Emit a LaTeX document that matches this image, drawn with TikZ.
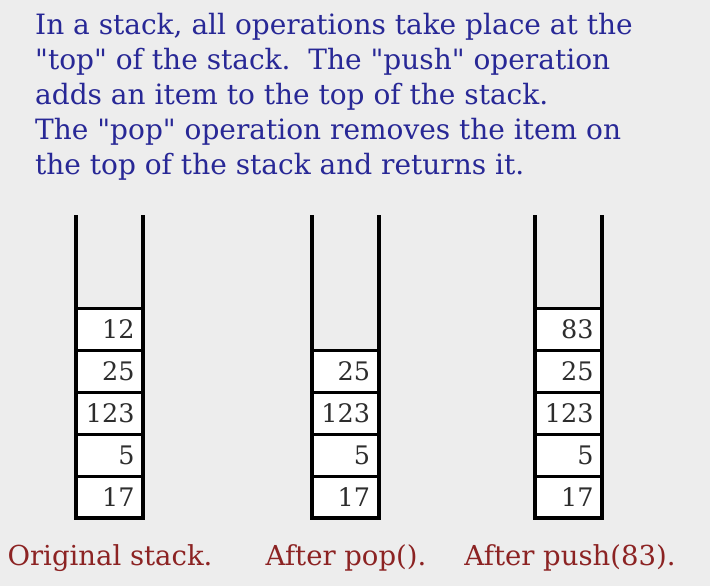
\documentclass[tikz,border=0pt]{standalone}
\usepackage{fontspec}
\setmainfont{DejaVu Serif}
\definecolor{bgc}{RGB}{237,237,237}
\definecolor{titleblue}{RGB}{40,40,150}
\definecolor{capred}{RGB}{140,35,35}
\definecolor{numgray}{RGB}{45,45,45}
\newcommand{\qq}{\textquotedbl}
\begin{document}
\begin{tikzpicture}[x=1bp,y=-1bp,
  title/.style={anchor=base west, inner sep=0pt, text=titleblue, font=\fontsize{28bp}{34bp}\selectfont},
  caption/.style={anchor=base, inner sep=0pt, text=capred, font=\fontsize{27.5bp}{33bp}\selectfont},
  cell/.style={draw=black, line width=3bp, fill=white, minimum width=67bp, minimum height=42bp,
    text width=50bp, align=right, inner sep=0pt, text=numgray, font=\fontsize{25.5bp}{30bp}\selectfont},
  wall/.style={line width=4bp, line join=miter}]
\fill[bgc] (0,0) rectangle (710,586);
\useasboundingbox (0,0) rectangle (710,586);
\node[title] (t1) at (35,35) {In a stack, all operations take place at the};
\node[title] (t2) at (35,70) {\qq top\qq{} of the stack.\ \ The \qq push\qq{} operation};
\node[title] (t3) at (35,105) {adds an item to the top of the stack.};
\node[title] (t4) at (35,140) {The \qq pop\qq{} operation removes the item on};
\node[title] (t5) at (35,175) {the top of the stack and returns it.};
% stack 1
\node[cell] (a1) at (109.5,497) {17};
\node[cell] (a2) at (109.5,455) {5};
\node[cell] (a3) at (109.5,413) {123};
\node[cell] (a4) at (109.5,371) {25};
\node[cell] (a5) at (109.5,329) {12};
\draw[wall] (76,215) -- (76,518) -- (143,518) -- (143,215);
% stack 2
\node[cell] (b1) at (345,497) {17};
\node[cell] (b2) at (345,455) {5};
\node[cell] (b3) at (345,413) {123};
\node[cell] (b4) at (345,371) {25};
\draw[wall] (311.5,215) -- (311.5,518) -- (378.5,518) -- (378.5,215);
% stack 3
\node[cell] (c1) at (568.5,497) {17};
\node[cell] (c2) at (568.5,455) {5};
\node[cell] (c3) at (568.5,413) {123};
\node[cell] (c4) at (568.5,371) {25};
\node[cell] (c5) at (568.5,329) {83};
\draw[wall] (535,215) -- (535,518) -- (602,518) -- (602,215);
\node[caption] (k1) at (110,565) {Original stack.};
\node[caption] (k2) at (346,565) {After pop().};
\node[caption] (k3) at (570,565) {After push(83).};
\end{tikzpicture}
\end{document}
